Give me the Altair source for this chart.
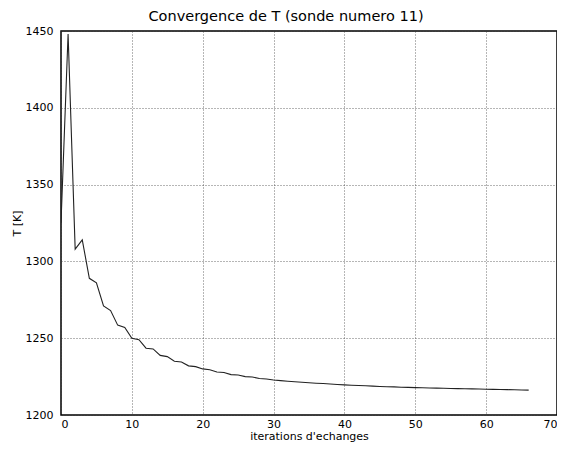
import altair as alt
import pandas as pd

iterations = list(range(67))
temperature = [
    1325, 1448, 1308, 1314, 1289, 1286, 1271, 1268, 1258.5, 1257,
    1250, 1249, 1243.5, 1243, 1238.8, 1238, 1235, 1234.5, 1232, 1231.5,
    1230, 1229.5, 1228, 1227.7, 1226.3, 1226, 1225, 1224.7, 1223.8, 1223.4,
    1222.8, 1222.4, 1222.0, 1221.6, 1221.3, 1221.0, 1220.7, 1220.5, 1220.2, 1219.9,
    1219.6, 1219.4, 1219.2, 1219.0, 1218.8, 1218.6, 1218.4, 1218.3, 1218.1, 1218.0,
    1217.8, 1217.7, 1217.6, 1217.5, 1217.4, 1217.3, 1217.2, 1217.1, 1217.0, 1216.9,
    1216.8, 1216.7, 1216.6, 1216.5, 1216.4, 1216.3, 1216.2,
]
x_ticks = [0, 10, 20, 30, 40, 50, 60, 70]
y_ticks = [1200, 1250, 1300, 1350, 1400, 1450]

df = pd.DataFrame({"it": iterations, "T": temperature})

FONT = "DejaVu Sans"

chart = alt.Chart(df).mark_line(color="#222222", strokeWidth=1.1, clip=True).encode(
    x=alt.X("it:Q", scale=alt.Scale(domain=[0, 70], nice=False, zero=False),
            axis=alt.Axis(values=x_ticks, title="iterations d'echanges", grid=True, format="d",
                          tickSize=0, labelPadding=3, titlePadding=1, domain=False)),
    y=alt.Y("T:Q", scale=alt.Scale(domain=[1200, 1450], nice=False, zero=False),
            axis=alt.Axis(values=y_ticks, title="T [K]", grid=True, format="d",
                          labelFlush=False,
                          tickSize=0, labelPadding=8, titlePadding=3, domain=False)),
).properties(
    width=496,
    height=384,
    background="white",
    title=alt.TitleParams("Convergence de T (sonde numero 11)", fontSize=14.5,
                          font=FONT, fontWeight="normal", color="black",
                          frame="group", anchor="middle", dx=-23, offset=1),
    autosize=alt.AutoSizeParams(type="none"),
    padding={"left": 53, "top": 23, "right": 0, "bottom": 27},
).configure_axis(
    labelFont=FONT, titleFont=FONT, labelFontSize=11, titleFontSize=11,
    labelColor="black", titleColor="black", titleFontWeight="normal",
    gridColor="#333333", gridDash=[1, 2], gridWidth=0.8, gridOpacity=0.9,
).configure_view(
    stroke="black", strokeWidth=1.5,
)

chart.save("out.html", embed_options={"renderer": "svg", "actions": False})
